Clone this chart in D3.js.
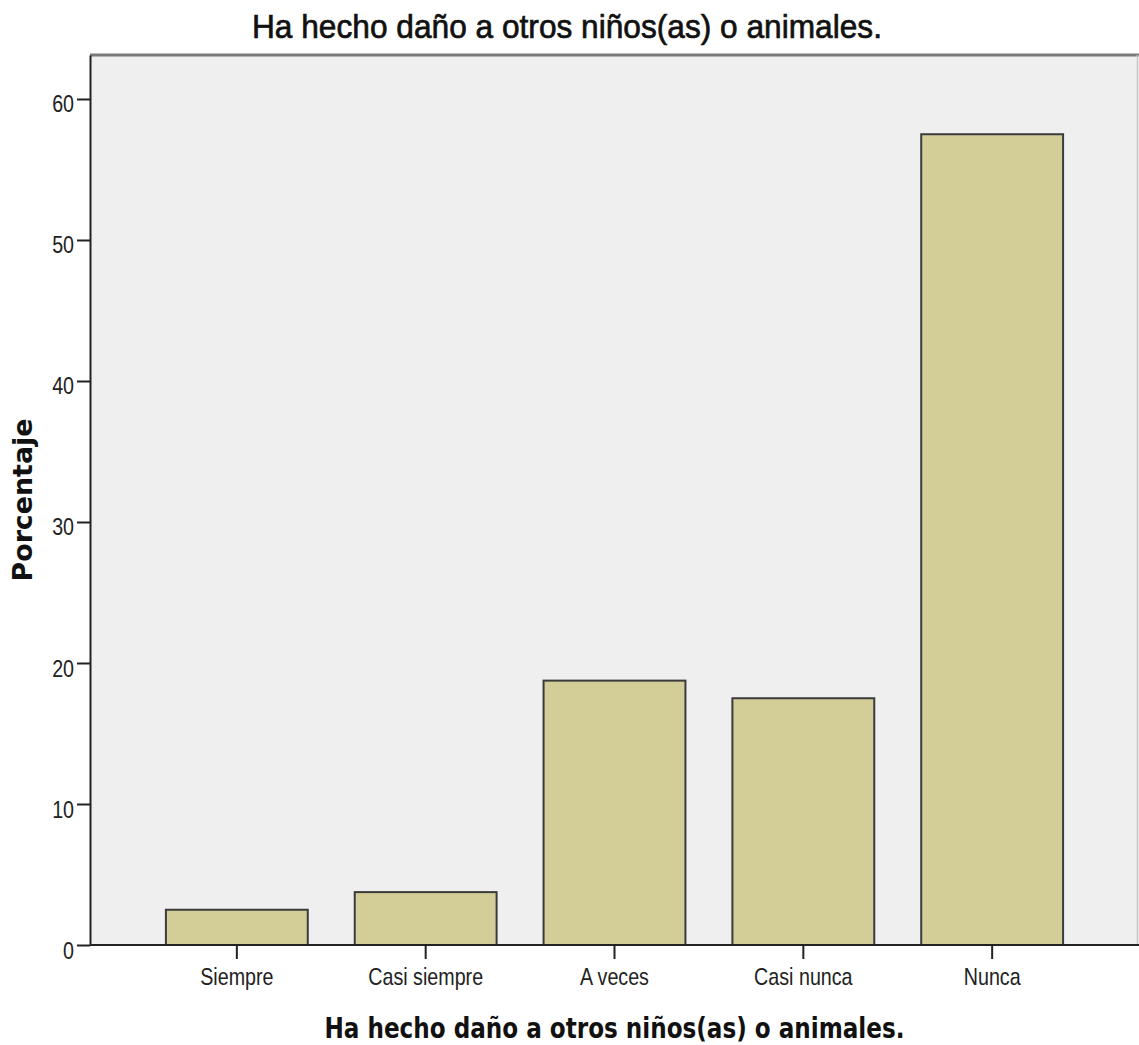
<!DOCTYPE html>
<html>
<head>
<meta charset="utf-8">
<script src="https://cdn.jsdelivr.net/npm/d3@7"></script>
<style>
  html, body { margin: 0; padding: 0; background: #ffffff; }
  svg { display: block; }
</style>
</head>
<body>
<script>
// ---- data ----
const categories = ["Siempre", "Casi siempre", "A veces", "Casi nunca", "Nunca"];
const values = [2.5, 3.75, 18.75, 17.5, 57.5];
const yTicks = [0, 10, 20, 30, 40, 50, 60];
const chartTitle = "Ha hecho daño a otros niños(as) o animales.";
const xTitle = "Ha hecho daño a otros niños(as) o animales.";
const yTitle = "Porcentaje";

// ---- layout ----
const W = 1139, H = 1045;
const plot = { left: 90, right: 1139, top: 55, bottom: 945 };

const svg = d3.select("body").append("svg")
  .attr("width", W).attr("height", H);

const x = d3.scaleBand()
  .domain(categories)
  .range([plot.left, plot.right])
  .paddingInner(0.2487)
  .paddingOuter(0.402);

const y = d3.scaleLinear()
  .domain([0, 63.12])
  .range([plot.bottom, plot.top]);

// plot background
svg.append("rect")
  .attr("x", plot.left).attr("y", plot.top)
  .attr("width", plot.right - plot.left).attr("height", plot.bottom - plot.top)
  .attr("fill", "#efefef");

// top border
svg.append("line")
  .attr("x1", plot.left).attr("x2", plot.right)
  .attr("y1", plot.top).attr("y2", plot.top)
  .attr("stroke", "#7a7a7a").attr("stroke-width", 3);
// right border
svg.append("line")
  .attr("x1", plot.right - 1.5).attr("x2", plot.right - 1.5)
  .attr("y1", plot.top).attr("y2", plot.bottom)
  .attr("stroke", "#c8c8c8").attr("stroke-width", 1.5);

// bars
svg.append("g").selectAll("rect")
  .data(categories.map((c, i) => ({ c, v: values[i] })))
  .join("rect")
  .attr("x", d => x(d.c))
  .attr("y", d => y(d.v))
  .attr("width", x.bandwidth())
  .attr("height", d => y(0) - y(d.v))
  .attr("fill", "#d3ce97")
  .attr("stroke", "#3b3b3b")
  .attr("stroke-width", 2);

const tickFont = "'Liberation Sans', Arial, sans-serif";
const narrow = 0.82;

// y axis
const yAxis = svg.append("g")
  .attr("transform", `translate(${plot.left},0)`)
  .call(d3.axisLeft(y).tickValues(yTicks).tickSize(13).tickSizeOuter(0).tickPadding(0).tickFormat(d3.format("d")));
yAxis.select(".domain").attr("stroke", "#222").attr("stroke-width", 2);
yAxis.selectAll(".tick line").attr("stroke", "#222").attr("stroke-width", 2);
yAxis.selectAll(".tick text")
  .attr("font-family", tickFont).attr("font-size", 24).attr("fill", "#222")
  .attr("text-anchor", "end")
  .attr("dy", null)
  .attr("x", -16 / narrow)
  .attr("y", 13)
  .attr("transform", `scale(${narrow},1)`);

// x axis
const xAxis = svg.append("g")
  .attr("transform", `translate(0,${plot.bottom})`)
  .call(d3.axisBottom(x).tickSize(14).tickPadding(0).tickSizeOuter(0));
xAxis.select(".domain").attr("stroke", "#222").attr("stroke-width", 2)
  .attr("d", `M${plot.left},0H${plot.right}`);
xAxis.selectAll(".tick line").attr("stroke", "#222").attr("stroke-width", 2);
xAxis.selectAll(".tick text")
  .attr("font-family", tickFont).attr("font-size", 24).attr("fill", "#222")
  .attr("dy", null)
  .attr("y", 40)
  .attr("transform", `scale(${narrow},1)`);

// chart title
svg.append("text")
  .attr("x", 567).attr("y", 38)
  .attr("text-anchor", "middle")
  .attr("font-family", tickFont).attr("font-size", 34).attr("fill", "#111")
  .attr("stroke", "#111").attr("stroke-width", 0.7)
  .attr("textLength", 630).attr("lengthAdjust", "spacingAndGlyphs")
  .text(chartTitle);

// x title
svg.append("text")
  .attr("x", (plot.left + plot.right) / 2).attr("y", 1038)
  .attr("text-anchor", "middle")
  .attr("font-family", "'DejaVu Sans', sans-serif").attr("font-weight", "bold")
  .attr("font-size", 29).attr("fill", "#111")
  .attr("textLength", 580).attr("lengthAdjust", "spacingAndGlyphs")
  .text(xTitle);

// y title
svg.append("text")
  .attr("transform", `translate(32,${(plot.top + plot.bottom) / 2}) rotate(-90)`)
  .attr("text-anchor", "middle")
  .attr("font-family", "'DejaVu Sans', sans-serif").attr("font-weight", "bold")
  .attr("font-size", 27).attr("fill", "#111")
  .attr("textLength", 163).attr("lengthAdjust", "spacingAndGlyphs")
  .text(yTitle);
</script>
</body>
</html>
